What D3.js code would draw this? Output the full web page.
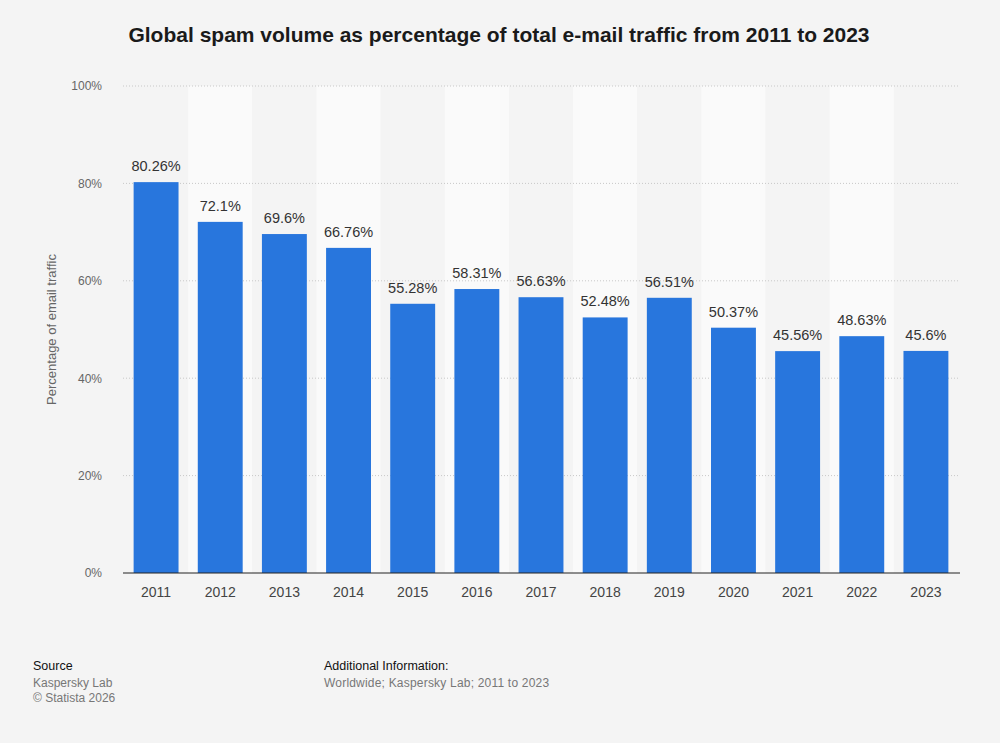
<!DOCTYPE html>
<html>
<head>
<meta charset="utf-8">
<script src="https://cdn.jsdelivr.net/npm/d3@7"></script>
<style>
  body { margin: 0; background: #f4f4f4; font-family: "Liberation Sans", Arial, Helvetica, sans-serif; }
  svg { display: block; }
</style>
</head>
<body>
<div id="chart"></div>
<script>
// chart data
const years = ["2011", "2012", "2013", "2014", "2015", "2016", "2017", "2018", "2019", "2020", "2021", "2022", "2023"];
const spamShare = [80.26, 72.1, 69.6, 66.76, 55.28, 58.31, 56.63, 52.48, 56.51, 50.37, 45.56, 48.63, 45.6];
const valueLabels = ["80.26%", "72.1%", "69.6%", "66.76%", "55.28%", "58.31%", "56.63%", "52.48%", "56.51%", "50.37%", "45.56%", "48.63%", "45.6%"];
const yTicks = [0, 20, 40, 60, 80, 100];

const width = 1000, height = 743;

const svg = d3.select("#chart").append("svg")
    .attr("width", width)
    .attr("height", height);

svg.append("rect").attr("width", width).attr("height", height).attr("fill", "#f4f4f4");

// scales
const x = d3.scaleBand().domain(years).range([124, 958]).paddingInner(0).paddingOuter(0);
const y = d3.scaleLinear().domain([0, 100]).range([573, 86]);

// alternating column bands
svg.append("g").selectAll("rect")
    .data(years)
    .join("rect")
    .attr("x", d => x(d))
    .attr("y", y(100))
    .attr("width", x.bandwidth())
    .attr("height", y(0) - y(100))
    .attr("fill", (d, i) => i % 2 === 1 ? "#fafafa" : "#f4f4f4");

// grid lines
svg.append("g").selectAll("line")
    .data(yTicks.filter(t => t > 0))
    .join("line")
    .attr("x1", 123).attr("x2", 960)
    .attr("y1", d => y(d)).attr("y2", d => y(d))
    .attr("stroke", "#c8c8c8")
    .attr("stroke-width", 1)
    .attr("stroke-dasharray", "1,2");

// y axis tick labels
const yAxis = d3.axisLeft(y).tickValues(yTicks).tickFormat(d => d + "%").tickSize(0).tickPadding(0);
const gy = svg.append("g").attr("transform", "translate(102,0)").call(yAxis);
gy.select(".domain").remove();
gy.selectAll("text")
    .attr("fill", "#666")
    .style("font-size", "12px")
    .style("font-family", "'Liberation Sans', Arial, sans-serif");

// bars
const barW = x.bandwidth() * 0.7;
svg.append("g").selectAll("rect")
    .data(spamShare)
    .join("rect")
    .attr("x", (d, i) => x(years[i]) + (x.bandwidth() - barW) / 2)
    .attr("y", d => y(d))
    .attr("width", barW)
    .attr("height", d => y(0) - y(d))
    .attr("fill", "#2876dd");

// value labels
svg.append("g").selectAll("text")
    .data(spamShare)
    .join("text")
    .attr("x", (d, i) => x(years[i]) + x.bandwidth() / 2)
    .attr("y", d => y(d) - 11)
    .attr("text-anchor", "middle")
    .attr("fill", "#333")
    .style("font-size", "14.5px")
    .text((d, i) => valueLabels[i]);

// baseline
svg.append("line")
    .attr("x1", 123).attr("x2", 960)
    .attr("y1", y(0)).attr("y2", y(0))
    .attr("stroke", "#222")
    .attr("stroke-width", 1.2);

// x axis labels
const xAxis = d3.axisBottom(x).tickSize(0).tickPadding(0);
const gx = svg.append("g").attr("transform", `translate(0,${y(0) + 14})`).call(xAxis);
gx.select(".domain").remove();
gx.selectAll("text")
    .attr("fill", "#444")
    .attr("dy", "0.71em")
    .style("font-size", "14px")
    .style("font-family", "'Liberation Sans', Arial, sans-serif");

// y axis title
svg.append("text")
    .attr("transform", `translate(56,${(y(0) + y(100)) / 2}) rotate(-90)`)
    .attr("text-anchor", "middle")
    .attr("fill", "#666")
    .style("font-size", "13px")
    .text("Percentage of email traffic");

// title
svg.append("text")
    .attr("x", 499).attr("y", 42)
    .attr("text-anchor", "middle")
    .attr("fill", "#1a1a1a")
    .style("font-size", "21px")
    .style("font-weight", "bold")
    .text("Global spam volume as percentage of total e-mail traffic from 2011 to 2023");

// footer
const foot = svg.append("g").style("font-size", "12px");
foot.append("text").attr("x", 33).attr("y", 670).attr("fill", "#111").style("font-size", "12.5px").text("Source");
foot.append("text").attr("x", 33).attr("y", 687).attr("fill", "#777").text("Kaspersky Lab");
foot.append("text").attr("x", 33).attr("y", 702).attr("fill", "#777").text("© Statista 2026");
foot.append("text").attr("x", 324).attr("y", 670).attr("fill", "#111").style("font-size", "12.5px").text("Additional Information:");
foot.append("text").attr("x", 324).attr("y", 687).attr("fill", "#777").style("letter-spacing", "0.2px").text("Worldwide; Kaspersky Lab; 2011 to 2023");
</script>
</body>
</html>
